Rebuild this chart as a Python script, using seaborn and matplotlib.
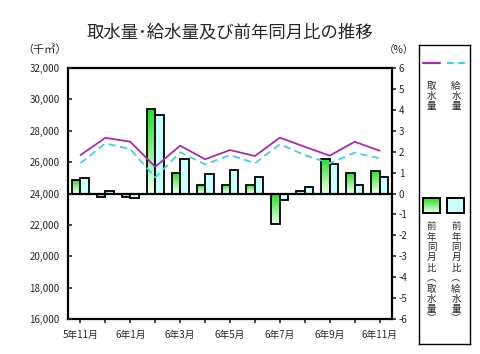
import numpy as np
import pandas as pd
import matplotlib
matplotlib.use('Agg')
import matplotlib.pyplot as plt
import seaborn as sns
from matplotlib.colors import LinearSegmentedColormap
from matplotlib.patches import Rectangle

# データ
months = ['5年11月', '5年12月', '6年1月', '6年2月', '6年3月', '6年4月', '6年5月',
          '6年6月', '6年7月', '6年8月', '6年9月', '6年10月', '6年11月']
tick_labels = ['5年11月', '', '6年1月', '', '6年3月', '', '6年5月',
               '', '6年7月', '', '6年9月', '', '6年11月']
intake = [26450, 27550, 27300, 25700, 27050, 26180, 26770,
          26390, 27560, 26980, 26410, 27300, 26730]
supply = [25930, 27200, 26820, 25030, 26630, 25860, 26450,
          25930, 27140, 26450, 25930, 26600, 26250]
intake_yoy = [0.65, -0.15, -0.18, 4.03, 0.97, 0.41, 0.41,
              0.41, -1.46, 0.13, 1.64, 0.97, 1.09]
supply_yoy = [0.73, 0.12, -0.20, 3.76, 1.64, 0.92, 1.12,
              0.80, -0.31, 0.33, 1.40, 0.41, 0.80]

MAGENTA = '#a82ab2'
CYAN = '#3ed2e0'
GREEN = '#22dd22'
PALE_GREEN = '#f0fff0'
LIGHT_CYAN = '#ccffff'

sns.set_style('white')
plt.rcParams['font.family'] = ['Noto Sans CJK JP', 'DejaVu Sans']

W, H = 480, 354
fig = plt.figure(figsize=(W / 100, H / 100), dpi=100)

def fx(px):
    return px / W

def fy(py):
    return 1 - py / H

ax = fig.add_axes([fx(68), fy(319), fx(392 - 68), (319 - 68) / H])
axl = ax.twinx()

# 前年同月比（棒）
idx = np.arange(len(months))
bars = pd.DataFrame({
    'idx': np.concatenate([idx, idx]),
    'val': intake_yoy + supply_yoy,
    'series': ['取水量'] * len(idx) + ['給水量'] * len(idx),
})
sns.barplot(data=bars, x='idx', y='val', hue='series', ax=ax,
            palette={'取水量': GREEN, '給水量': LIGHT_CYAN},
            width=0.68, edgecolor='black', linewidth=1.3,
            saturation=1, legend=False, errorbar=None)

green_cmap = LinearSegmentedColormap.from_list('g', [PALE_GREEN, GREEN])
grad = np.linspace(0, 1, 64).reshape(-1, 1)
for p in ax.containers[0]:
    x0, y0 = p.get_x(), p.get_y()
    w, h = p.get_width(), p.get_height()
    top, bot = max(y0, y0 + h), min(y0, y0 + h)
    im = ax.imshow(grad, extent=[x0, x0 + w, bot, top], origin='lower',
                   aspect='auto', cmap=green_cmap, zorder=0.9)
    im.set_clip_path(p)
    p.set_facecolor('none')

ax.axhline(0, color='black', lw=1.6, zorder=3)
ax.set_xlim(-0.5, len(months) - 0.5)
ax.set_ylim(-6, 6)
ax.set_yticks(range(-6, 7))
ax.set_yticklabels([str(v) for v in range(-6, 7)], fontsize=7)
ax.yaxis.tick_right()
ax.tick_params(axis='y', direction='out', length=3, width=1.2, pad=2,
               right=True, left=False, labelright=True, labelleft=False)
ax.set_xticks(idx)
ax.set_xticklabels(tick_labels, fontsize=7)
ax.tick_params(axis='x', direction='out', length=3, width=1.2, pad=5, bottom=True)
ax.set_xlabel('')
ax.set_ylabel('')
for s in ax.spines.values():
    s.set_visible(True)
    s.set_color('black')
    s.set_linewidth(1.6)

# 取水量・給水量（線）
sns.lineplot(x=idx, y=intake, ax=axl, color=MAGENTA, lw=1.3)
sns.lineplot(x=idx, y=supply, ax=axl, color=CYAN, lw=1.3, linestyle=(0, (4, 2.5)))
axl.set_ylim(16000, 32000)
axl.set_yticks(range(16000, 32001, 2000))
axl.set_yticklabels([f'{v:,}' for v in range(16000, 32001, 2000)], fontsize=7)
axl.yaxis.tick_left()
axl.tick_params(axis='y', direction='in', length=3, width=1.2, pad=6,
                left=True, right=False, labelleft=True, labelright=False)
for s in axl.spines.values():
    s.set_visible(False)

fig.text(fx(230), fy(32), '取水量･給水量及び前年同月比の推移', ha='center', va='center', fontsize=12.5)
fig.text(fx(45), fy(50), '（千㎥）', ha='center', va='center', fontsize=8)
fig.text(fx(399), fy(50), '（%）', ha='center', va='center', fontsize=7.5)

# 凡例
lg = fig.add_axes([fx(419), fy(344), fx(470 - 419), (344 - 45) / H])
lg.set_xticks([])
lg.set_yticks([])
for s in lg.spines.values():
    s.set_color('black')
    s.set_linewidth(1)

lg.plot([423, 440], [63, 63], color=MAGENTA, lw=1.6)
lg.plot([447, 465], [63, 63], color=CYAN, lw=1.6, linestyle=(0, (3, 2)))
r1 = Rectangle((423, 198), 17, 15, facecolor='none', edgecolor='black', lw=1.4, zorder=3)
lg.add_patch(r1)
im = lg.imshow(grad, extent=[423, 440, 213, 198], origin='lower', aspect='auto',
               cmap=green_cmap, zorder=2)
im.set_clip_path(r1)
lg.add_patch(Rectangle((447, 198), 17, 15, facecolor=LIGHT_CYAN, edgecolor='black', lw=1.4))
lg.set_xlim(419, 470)
lg.set_ylim(344, 45)

def vtext(x, ys, chars):
    for y, c in zip(ys, chars):
        lg.text(x, y, c, ha='center', va='center', fontsize=6.8)

vtext(431.5, [86.5, 96.5, 106.5], '取水量')
vtext(456, [86.5, 96.5, 106.5], '給水量')
yy = [227, 237, 247, 257, 268, 279, 289, 299, 309, 319]
vtext(431.5, yy, '前年同月比︵取水量︶')
vtext(456, yy, '前年同月比︵給水量︶')

fig.savefig('out.png', dpi=100)
